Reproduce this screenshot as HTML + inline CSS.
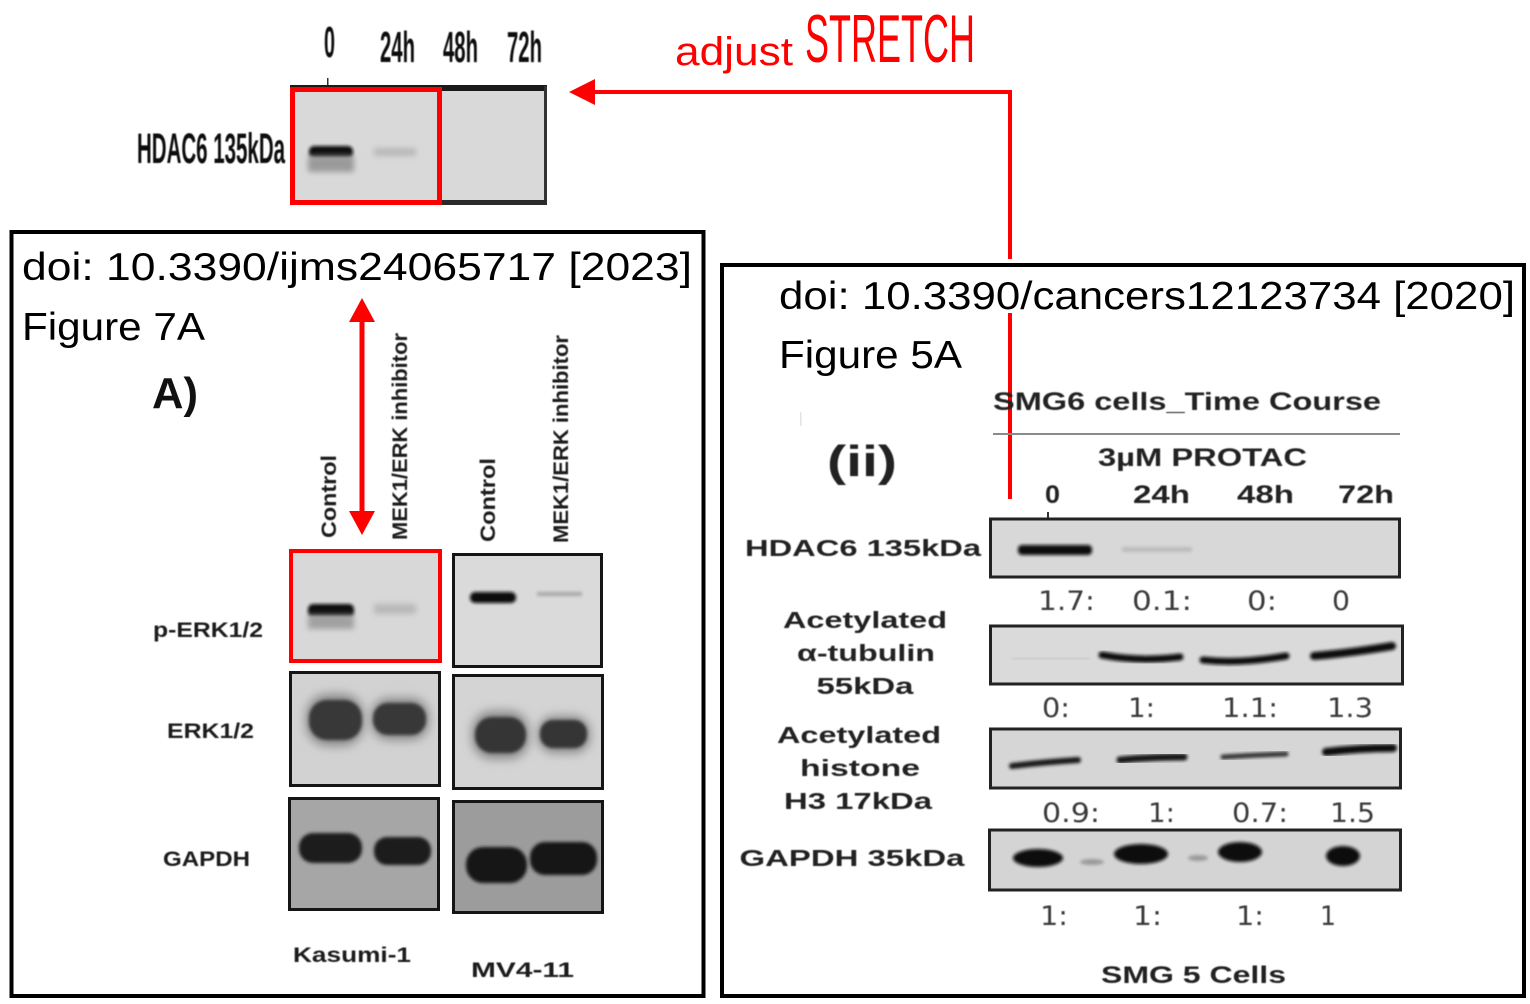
<!DOCTYPE html>
<html><head><meta charset="utf-8"><style>
html,body{margin:0;padding:0;background:#fff;}
svg{display:block;}
</style></head><body>
<svg width="1530" height="1004" viewBox="0 0 1530 1004" xmlns="http://www.w3.org/2000/svg">
<defs>
<filter id="b1" x="-30%" y="-100%" width="160%" height="300%"><feGaussianBlur stdDeviation="1.5"/></filter>
<filter id="b2" x="-30%" y="-100%" width="160%" height="300%"><feGaussianBlur stdDeviation="3"/></filter>
<filter id="b3" x="-30%" y="-100%" width="160%" height="300%"><feGaussianBlur stdDeviation="5"/></filter>
<filter id="t" x="-5%" y="-20%" width="110%" height="140%"><feGaussianBlur stdDeviation="0.6"/></filter>
</defs>
<rect width="1530" height="1004" fill="#fff"/>

<!-- ===== TOP BLOT ===== -->
<g font-family="Liberation Sans, Arial, sans-serif" font-weight="bold" fill="#111" filter="url(#t)">
<text x="324" y="57" font-size="44" textLength="11" lengthAdjust="spacingAndGlyphs">0</text>
<text x="380" y="62" font-size="44" textLength="35" lengthAdjust="spacingAndGlyphs">24h</text>
<text x="443" y="62" font-size="44" textLength="35" lengthAdjust="spacingAndGlyphs">48h</text>
<text x="507" y="62" font-size="44" textLength="35" lengthAdjust="spacingAndGlyphs">72h</text>
<text x="137" y="163" font-size="43" textLength="148" lengthAdjust="spacingAndGlyphs">HDAC6 135kDa</text>
</g>
<rect x="327" y="78" width="1.5" height="9" fill="#333"/>
<rect x="291" y="88" width="255" height="115" fill="#d9d9d9"/>
<rect x="290" y="85" width="257" height="6" fill="#1a1a1a"/>
<rect x="544" y="86" width="3" height="119" fill="#333"/>
<rect x="290" y="200" width="257" height="5" fill="#2a2a2a"/>
<rect x="309" y="146" width="44" height="12" rx="5" fill="#0e0e0e" filter="url(#b1)"/>
<rect x="308" y="156" width="46" height="16" fill="#9a9a9a" filter="url(#b2)"/>
<rect x="374" y="148" width="42" height="8" fill="#b8b8b8" filter="url(#b2)"/>
<rect x="292.5" y="89.5" width="147" height="113" fill="none" stroke="#ff0000" stroke-width="5"/>

<!-- ===== arrow top ===== -->
<polyline points="1010,259 1010,92 590,92" fill="none" stroke="#ff0000" stroke-width="4"/>
<polygon points="569,92 595,79 595,105" fill="#ff0000"/>
<line x1="1010" y1="313" x2="1010" y2="499" stroke="#ff0000" stroke-width="4"/>
<text x="675" y="65" font-family="Liberation Sans, Arial, sans-serif" font-size="40" fill="#ff0000" textLength="118" lengthAdjust="spacingAndGlyphs">adjust</text>
<text x="805" y="62" font-family="Liberation Sans, Arial, sans-serif" font-size="68" fill="#ff0000" textLength="170" lengthAdjust="spacingAndGlyphs">STRETCH</text>

<!-- ===== LEFT BOX ===== -->
<rect x="11.5" y="232" width="692" height="764" fill="none" stroke="#000" stroke-width="4"/>
<g font-family="Liberation Sans, Arial, sans-serif" fill="#000">
<text x="22" y="280" font-size="39" textLength="670" lengthAdjust="spacingAndGlyphs">doi: 10.3390/ijms24065717 [2023]</text>
<text x="22" y="340" font-size="39" textLength="183" lengthAdjust="spacingAndGlyphs">Figure 7A</text>
</g>
<text x="152" y="408" font-family="Liberation Sans, Arial, sans-serif" font-weight="bold" font-size="44" fill="#111" textLength="46" lengthAdjust="spacingAndGlyphs">A)</text>

<g font-family="Liberation Sans, Arial, sans-serif" font-weight="bold" font-size="21" fill="#1a1a1a" filter="url(#t)">
<text transform="translate(336,538) rotate(-90)" textLength="83" lengthAdjust="spacingAndGlyphs">Control</text>
<text transform="translate(407,540) rotate(-90)" textLength="207" lengthAdjust="spacingAndGlyphs">MEK1/ERK inhibitor</text>
<text transform="translate(495,542) rotate(-90)" textLength="84" lengthAdjust="spacingAndGlyphs">Control</text>
<text transform="translate(568,543) rotate(-90)" textLength="208" lengthAdjust="spacingAndGlyphs">MEK1/ERK inhibitor</text>
<text x="153" y="637" textLength="110" lengthAdjust="spacingAndGlyphs">p-ERK1/2</text>
<text x="167" y="738" textLength="87" lengthAdjust="spacingAndGlyphs">ERK1/2</text>
<text x="163" y="866" textLength="87" lengthAdjust="spacingAndGlyphs">GAPDH</text>
<text x="293" y="962" textLength="118" lengthAdjust="spacingAndGlyphs">Kasumi-1</text>
<text x="471" y="977" textLength="103" lengthAdjust="spacingAndGlyphs">MV4-11</text>
</g>

<!-- red double arrow -->
<line x1="362" y1="318" x2="362" y2="515" stroke="#ff0000" stroke-width="5"/>
<polygon points="362,298 349,322 375,322" fill="#ff0000"/>
<polygon points="362,535 349,511 375,511" fill="#ff0000"/>

<!-- Kasumi pERK -->
<rect x="291" y="551" width="149" height="110" fill="#d8d8d8"/>
<rect x="308" y="604" width="46" height="13" rx="5" fill="#0f0f0f" filter="url(#b1)"/>
<rect x="308" y="615" width="46" height="14" fill="#a0a0a0" filter="url(#b2)"/>
<rect x="374" y="604" width="42" height="10" fill="#b8b8b8" filter="url(#b2)"/>
<rect x="291" y="551" width="149" height="110" fill="none" stroke="#ff0000" stroke-width="4"/>
<!-- MV pERK -->
<rect x="453.5" y="554.5" width="148" height="112" fill="#dadada" stroke="#151515" stroke-width="3"/>
<rect x="470" y="592" width="46" height="11" rx="5" fill="#0f0f0f" filter="url(#b1)"/>
<rect x="537" y="592" width="45" height="4" fill="#a8a8a8" filter="url(#b1)"/>
<!-- ERK Kasumi -->
<rect x="290.5" y="672.5" width="149" height="113" fill="#d2d2d2" stroke="#151515" stroke-width="3"/>
<rect x="306" y="694" width="58" height="52" rx="22" fill="#888" filter="url(#b3)"/>
<rect x="309" y="700" width="53" height="40" rx="18" fill="#383838" filter="url(#b1)"/>
<rect x="371" y="698" width="58" height="42" rx="18" fill="#888" filter="url(#b3)"/>
<rect x="373" y="703" width="53" height="32" rx="15" fill="#383838" filter="url(#b1)"/>
<!-- ERK MV -->
<rect x="453.5" y="675.5" width="149" height="113" fill="#d4d4d4" stroke="#151515" stroke-width="3"/>
<rect x="472" y="711" width="57" height="48" rx="20" fill="#888" filter="url(#b3)"/>
<rect x="475" y="717" width="51" height="36" rx="17" fill="#363636" filter="url(#b1)"/>
<rect x="538" y="716" width="52" height="37" rx="16" fill="#888" filter="url(#b3)"/>
<rect x="540" y="720" width="47" height="28" rx="13" fill="#363636" filter="url(#b1)"/>
<!-- GAPDH Kasumi -->
<rect x="289.5" y="798.5" width="149" height="111" fill="#a6a6a6" stroke="#151515" stroke-width="3"/>
<rect x="299" y="833" width="63" height="30" rx="14" fill="#1a1a1a" filter="url(#b1)"/>
<rect x="374" y="837" width="57" height="28" rx="13" fill="#1a1a1a" filter="url(#b1)"/>
<!-- GAPDH MV -->
<rect x="453.5" y="801.5" width="149" height="111" fill="#9c9c9c" stroke="#151515" stroke-width="3"/>
<rect x="466" y="847" width="61" height="36" rx="17" fill="#171717" filter="url(#b1)"/>
<rect x="530" y="842" width="67" height="33" rx="15" fill="#171717" filter="url(#b1)"/>

<!-- ===== RIGHT BOX ===== -->
<rect x="722" y="265" width="802" height="731" fill="none" stroke="#000" stroke-width="4"/>
<g font-family="Liberation Sans, Arial, sans-serif" fill="#000">
<text x="779" y="309" font-size="39" textLength="736" lengthAdjust="spacingAndGlyphs">doi: 10.3390/cancers12123734 [2020]</text>
<text x="779" y="368" font-size="39" textLength="183" lengthAdjust="spacingAndGlyphs">Figure 5A</text>
</g>
<rect x="800" y="412" width="1.5" height="14" fill="#e4e4e4"/>
<g font-family="Liberation Sans, Arial, sans-serif" font-weight="bold" fill="#222" filter="url(#t)">
<text x="827" y="476" font-size="44" textLength="70" lengthAdjust="spacingAndGlyphs">(ii)</text>
<text x="993" y="410" font-size="25" textLength="388" lengthAdjust="spacingAndGlyphs">SMG6 cells_Time Course</text>
<text x="1098" y="466" font-size="25" textLength="209" lengthAdjust="spacingAndGlyphs">3µM PROTAC</text>
<text x="1045" y="503" font-size="25" textLength="15" lengthAdjust="spacingAndGlyphs">0</text>
<text x="1133" y="503" font-size="25" textLength="57" lengthAdjust="spacingAndGlyphs">24h</text>
<text x="1237" y="503" font-size="25" textLength="57" lengthAdjust="spacingAndGlyphs">48h</text>
<text x="1338" y="503" font-size="25" textLength="56" lengthAdjust="spacingAndGlyphs">72h</text>
<g font-size="23" text-anchor="middle">
<text x="863" y="556" textLength="236" lengthAdjust="spacingAndGlyphs">HDAC6 135kDa</text>
<text x="865" y="628" textLength="164" lengthAdjust="spacingAndGlyphs">Acetylated</text>
<text x="866" y="661" textLength="138" lengthAdjust="spacingAndGlyphs">α-tubulin</text>
<text x="865" y="694" textLength="97" lengthAdjust="spacingAndGlyphs">55kDa</text>
<text x="859" y="743" textLength="164" lengthAdjust="spacingAndGlyphs">Acetylated</text>
<text x="860" y="776" textLength="120" lengthAdjust="spacingAndGlyphs">histone</text>
<text x="858" y="809" textLength="148" lengthAdjust="spacingAndGlyphs">H3 17kDa</text>
<text x="852" y="866" textLength="225" lengthAdjust="spacingAndGlyphs">GAPDH 35kDa</text>
</g>
<text x="1101" y="983" font-size="24" textLength="185" lengthAdjust="spacingAndGlyphs">SMG 5 Cells</text>
</g>
<line x1="993" y1="434" x2="1400" y2="434" stroke="#8a8a8a" stroke-width="2"/>

<!-- HDAC6 blot -->
<rect x="1047" y="512" width="2" height="6" fill="#333"/>
<rect x="990.5" y="519" width="409" height="58" fill="#d8d8d8" stroke="#222" stroke-width="3"/>
<rect x="1018" y="545" width="74" height="10" rx="4" fill="#111" filter="url(#b1)"/>
<rect x="1122" y="547" width="70" height="5" fill="#bcbcbc" filter="url(#b1)"/>
<!-- tubulin blot -->
<rect x="990.5" y="626" width="412" height="58" fill="#dadada" stroke="#222" stroke-width="3"/>
<line x1="1012" y1="659" x2="1090" y2="658" stroke="#cbcbcb" stroke-width="3" filter="url(#b1)"/>
<path d="M1102,655 Q1140,662 1180,657" stroke="#111" stroke-width="7" fill="none" stroke-linecap="round" filter="url(#b1)"/>
<path d="M1203,660 Q1240,664 1286,656" stroke="#111" stroke-width="7" fill="none" stroke-linecap="round" filter="url(#b1)"/>
<path d="M1314,656 Q1350,653 1392,646" stroke="#111" stroke-width="8" fill="none" stroke-linecap="round" filter="url(#b1)"/>
<!-- histone blot -->
<rect x="990.5" y="729" width="410" height="59" fill="#d6d6d6" stroke="#222" stroke-width="3"/>
<path d="M1012,766 Q1045,762 1078,760" stroke="#151515" stroke-width="6" fill="none" stroke-linecap="round" filter="url(#b1)"/>
<path d="M1120,760 Q1150,757 1184,757" stroke="#151515" stroke-width="7" fill="none" stroke-linecap="round" filter="url(#b1)"/>
<path d="M1223,757 Q1255,755 1286,754" stroke="#333" stroke-width="5" fill="none" stroke-linecap="round" filter="url(#b1)"/>
<path d="M1326,752 Q1360,748 1393,748" stroke="#111" stroke-width="8" fill="none" stroke-linecap="round" filter="url(#b1)"/>
<!-- GAPDH blot -->
<rect x="989.5" y="830" width="411" height="60" fill="#d4d4d4" stroke="#222" stroke-width="3"/>
<ellipse cx="1038" cy="858" rx="25" ry="9" fill="#0e0e0e" filter="url(#b1)"/>
<ellipse cx="1092" cy="862" rx="12" ry="3" fill="#999" filter="url(#b1)"/>
<ellipse cx="1141" cy="854" rx="27" ry="10" fill="#0e0e0e" filter="url(#b1)"/>
<ellipse cx="1198" cy="858" rx="10" ry="3" fill="#999" filter="url(#b1)"/>
<ellipse cx="1240" cy="852" rx="22" ry="10" fill="#0e0e0e" filter="url(#b1)"/>
<ellipse cx="1343" cy="856" rx="17" ry="10" fill="#0e0e0e" filter="url(#b1)"/>

<!-- numbers -->
<g font-family="DejaVu Sans, Liberation Sans, sans-serif" font-size="27" fill="#3a3a3a" filter="url(#t)">
<text x="1038" y="610" textLength="57" lengthAdjust="spacingAndGlyphs">1.7:</text>
<text x="1132" y="610" textLength="60" lengthAdjust="spacingAndGlyphs">0.1:</text>
<text x="1247" y="610" textLength="30" lengthAdjust="spacingAndGlyphs">0:</text>
<text x="1332" y="610" textLength="18" lengthAdjust="spacingAndGlyphs">0</text>
<text x="1042" y="717" textLength="28" lengthAdjust="spacingAndGlyphs">0:</text>
<text x="1128" y="717" textLength="27" lengthAdjust="spacingAndGlyphs">1:</text>
<text x="1222" y="717" textLength="56" lengthAdjust="spacingAndGlyphs">1.1:</text>
<text x="1327" y="717" textLength="46" lengthAdjust="spacingAndGlyphs">1.3</text>
<text x="1042" y="822" textLength="58" lengthAdjust="spacingAndGlyphs">0.9:</text>
<text x="1148" y="822" textLength="27" lengthAdjust="spacingAndGlyphs">1:</text>
<text x="1232" y="822" textLength="56" lengthAdjust="spacingAndGlyphs">0.7:</text>
<text x="1330" y="822" textLength="45" lengthAdjust="spacingAndGlyphs">1.5</text>
<text x="1040" y="925" textLength="28" lengthAdjust="spacingAndGlyphs">1:</text>
<text x="1133" y="925" textLength="29" lengthAdjust="spacingAndGlyphs">1:</text>
<text x="1236" y="925" textLength="28" lengthAdjust="spacingAndGlyphs">1:</text>
<text x="1320" y="925" textLength="16" lengthAdjust="spacingAndGlyphs">1</text>
</g>
</svg>
</body></html>
